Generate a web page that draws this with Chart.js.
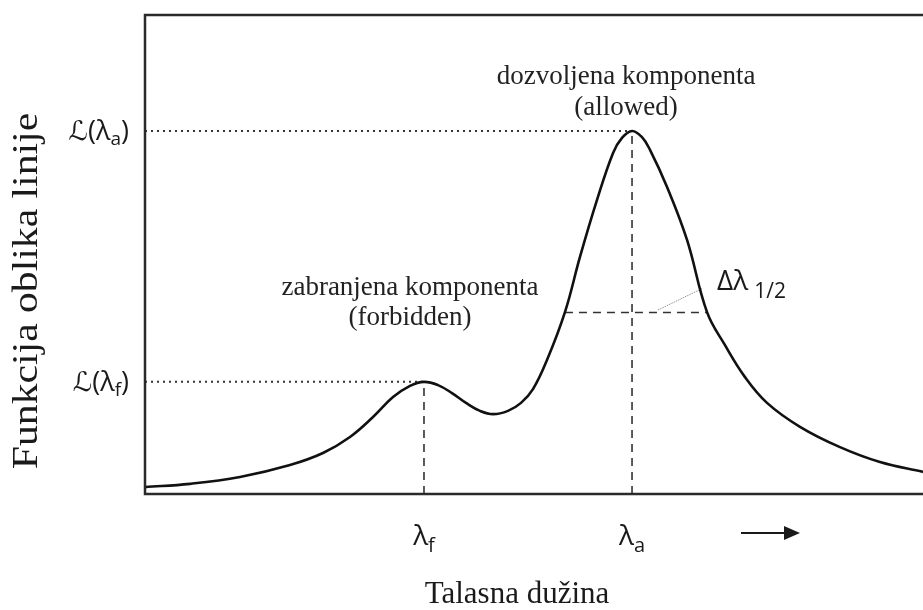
<!DOCTYPE html>
<html><head><meta charset="utf-8">
<script src="https://cdn.jsdelivr.net/npm/chart.js@4"></script>
<style>html,body{margin:0;padding:0;background:#fff}canvas{display:block}</style>
</head><body>
<canvas id="c" width="923" height="610"></canvas>
<script>
// ---- data (arbitrary wavelength units 0..10, intensity normalised to allowed peak = 1) ----
const wavelength = [0, 0.578, 1.221, 1.864, 2.288, 2.635, 2.931, 3.188, 3.406, 3.586, 3.766, 3.946, 4.126, 4.306, 4.473, 4.666, 4.833, 4.987, 5.167, 5.398, 5.591, 5.810, 6.015, 6.131, 6.260, 6.388, 6.491, 6.710, 6.967, 7.224, 7.455, 7.712, 7.995, 8.419, 8.933, 9.447, 10.0];
const intensity  = [0.019, 0.028, 0.047, 0.080, 0.113, 0.157, 0.212, 0.267, 0.298, 0.309, 0.300, 0.278, 0.251, 0.229, 0.220, 0.229, 0.251, 0.289, 0.369, 0.501, 0.653, 0.810, 0.939, 0.981, 1.000, 0.983, 0.948, 0.846, 0.700, 0.501, 0.410, 0.322, 0.251, 0.185, 0.129, 0.088, 0.061];
const lambdaF = 3.586, lambdaA = 6.26;
const peakF = 0.309, peakA = 1.0, halfMax = 0.5;
const halfLeft = 5.398, halfRight = 7.224;
const leaderX = [6.594, 7.172];
const leaderY = [0.507, 0.567];
const xTickValues = [lambdaF, lambdaA];
const xTickLabels = [['λ', 'f'], ['λ', 'a']];
const yTickValues = [peakA, peakF];
const yTickLabels = [['ℒ(λ', 'a', ')'], ['ℒ(λ', 'f', ')']];
const xTitle = 'Talasna dužina';
const yTitle = 'Funkcija oblika linije';
const allowedLabel = ['dozvoljena komponenta', '(allowed)'];
const forbiddenLabel = ['zabranjena komponenta', '(forbidden)'];
const widthLabel = ['Δλ', '1/2'];
const xMin = 0, xMax = 10, yMin = 0, yMax = 1.3196;

const SERIF = '"Liberation Serif", "Times New Roman", serif';
const SANS = '"Open Sans", "DejaVu Sans", sans-serif';

function pts(xs, ys) { return xs.map((x, i) => ({x: x, y: ys[i]})); }

const refStyle = {showLine: true, pointRadius: 0, fill: false, tension: 0};

const annot = {
  id: 'annot',
  afterDatasetsDraw(chart) {
    const ctx = chart.ctx, a = chart.chartArea;
    const xs = chart.scales.x, ys = chart.scales.y;
    ctx.save();
    // frame: left axis, bottom axis, top border
    ctx.strokeStyle = '#2a2a2a';
    ctx.lineWidth = 2.5;
    ctx.beginPath();
    ctx.moveTo(a.right + 2, a.top);
    ctx.lineTo(a.left, a.top);
    ctx.lineTo(a.left, a.bottom);
    ctx.lineTo(a.right + 2, a.bottom);
    ctx.stroke();

    ctx.fillStyle = '#1a1a1a';
    // y tick labels (right aligned)
    yTickValues.forEach((v, i) => {
      const py = ys.getPixelForValue(v);
      const parts = yTickLabels[i];
      const big = '27px ' + SANS, small = '19px ' + SANS;
      ctx.font = big; const w0 = ctx.measureText(parts[0]).width;
      ctx.font = small; const w1 = ctx.measureText(parts[1]).width;
      ctx.font = big; const w2 = ctx.measureText(parts[2]).width;
      let x = 129 - (w0 + w1 + w2);
      ctx.textAlign = 'left'; ctx.textBaseline = 'alphabetic';
      ctx.font = big; ctx.fillText(parts[0], x, py + 9); x += w0;
      ctx.font = small; ctx.fillText(parts[1], x, py + 14); x += w1;
      ctx.font = big; ctx.fillText(parts[2], x, py + 9);
    });
    // x tick labels (centred)
    xTickValues.forEach((v, i) => {
      const px = xs.getPixelForValue(v);
      const parts = xTickLabels[i];
      const big = '28px ' + SANS, small = '20px ' + SANS;
      ctx.font = big; const w0 = ctx.measureText(parts[0]).width;
      ctx.font = small; const w1 = ctx.measureText(parts[1]).width;
      let x = px - (w0 + w1) / 2;
      ctx.textAlign = 'left'; ctx.textBaseline = 'alphabetic';
      ctx.font = big; ctx.fillText(parts[0], x, a.bottom + 51); x += w0;
      ctx.font = small; ctx.fillText(parts[1], x, a.bottom + 58);
    });
    // direction arrow
    ctx.strokeStyle = '#1a1a1a'; ctx.lineWidth = 2;
    ctx.beginPath(); ctx.moveTo(741, 533); ctx.lineTo(786, 533); ctx.stroke();
    ctx.beginPath(); ctx.moveTo(800, 533); ctx.lineTo(784, 526); ctx.lineTo(784, 540); ctx.closePath(); ctx.fill();

    // axis titles
    ctx.font = '31px ' + SERIF;
    ctx.textAlign = 'center'; ctx.textBaseline = 'alphabetic';
    ctx.fillText(xTitle, 517, 603);
    ctx.save();
    ctx.translate(37, 291);
    ctx.rotate(-Math.PI / 2);
    ctx.scale(1.19, 1);
    ctx.font = '35px ' + SERIF;
    ctx.fillText(yTitle, 0, 0);
    ctx.restore();

    // component labels
    ctx.font = '27px ' + SERIF;
    ctx.textAlign = 'center';
    ctx.fillStyle = '#222';
    const pa = xs.getPixelForValue(lambdaA);
    ctx.fillText(allowedLabel[0], pa - 6, 84);
    ctx.fillText(allowedLabel[1], pa - 6, 115);
    const pf = xs.getPixelForValue(lambdaF);
    ctx.fillText(forbiddenLabel[0], pf - 14, 295);
    ctx.fillText(forbiddenLabel[1], pf - 14, 325);

    // half width label
    ctx.textAlign = 'left';
    ctx.fillStyle = '#1a1a1a';
    ctx.font = '28px ' + SANS;
    const lx = xs.getPixelForValue(leaderX[1]) + 14;
    ctx.fillText(widthLabel[0], lx, 290);
    const wd = ctx.measureText(widthLabel[0]).width;
    ctx.font = '21px ' + SANS;
    ctx.fillText(widthLabel[1], lx + wd + 6, 298);
    ctx.restore();
  }
};

new Chart(document.getElementById('c'), {
  type: 'scatter',
  data: {
    datasets: [
      {data: pts(wavelength, intensity), showLine: true, pointRadius: 0, borderColor: '#111', borderWidth: 2.6, tension: 0.4, fill: false},
      Object.assign({}, refStyle, {data: pts([xMin, lambdaA], [peakA, peakA]), borderColor: '#333', borderWidth: 2, borderDash: [2, 4]}),
      Object.assign({}, refStyle, {data: pts([xMin, lambdaF], [peakF, peakF]), borderColor: '#333', borderWidth: 2, borderDash: [2, 4]}),
      Object.assign({}, refStyle, {data: pts([lambdaF, lambdaF], [yMin, peakF]), borderColor: '#333', borderWidth: 1.6, borderDash: [8, 6]}),
      Object.assign({}, refStyle, {data: pts([lambdaA, lambdaA], [yMin, peakA]), borderColor: '#333', borderWidth: 1.6, borderDash: [8, 6]}),
      Object.assign({}, refStyle, {data: pts([halfLeft, halfRight], [halfMax, halfMax]), borderColor: '#333', borderWidth: 1.6, borderDash: [8, 6]}),
      Object.assign({}, refStyle, {data: pts(leaderX, leaderY), borderColor: '#777', borderWidth: 1, borderDash: [1, 1]})
    ]
  },
  options: {
    responsive: false,
    animation: false,
    layout: {padding: {left: 145, top: 15, right: 0, bottom: 116}},
    plugins: {legend: {display: false}, tooltip: {enabled: false}},
    scales: {
      x: {type: 'linear', min: xMin, max: xMax, display: false},
      y: {type: 'linear', min: yMin, max: yMax, display: false}
    }
  },
  plugins: [annot]
});
</script>
</body></html>
